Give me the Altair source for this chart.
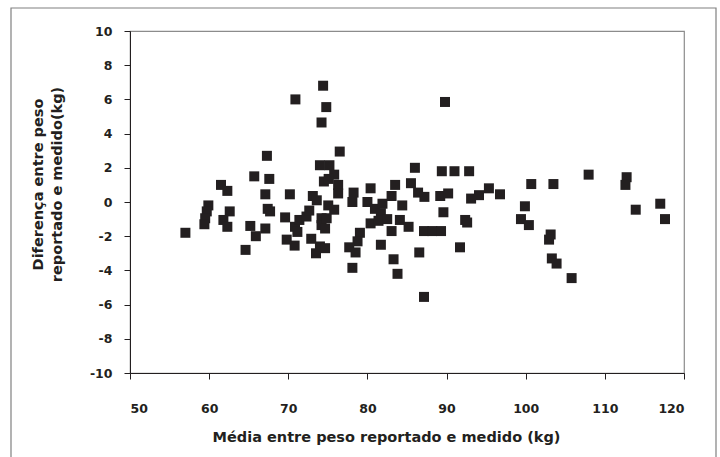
import altair as alt
import pandas as pd

# Mean of reported and measured weight (kg)
media = [
    57.0, 59.9, 59.7, 59.5, 59.4, 61.5, 62.3, 62.6, 61.8, 62.3,
    64.6, 65.7, 65.2, 65.9, 67.3, 67.6, 67.1, 67.4, 67.7, 67.1,
    69.6, 70.2, 69.8, 70.8, 70.9, 70.85, 71.4, 71.15, 72.3, 72.65,
    73.1, 73.6, 72.9, 73.5, 74.0, 74.2, 74.2, 74.4, 74.8, 74.2,
    76.5, 74.0, 75.2, 75.8, 74.5, 75.1, 76.3, 76.3, 75.05, 75.8,
    74.85, 74.65, 74.65,
    78.25, 78.1, 80.4, 80.0, 80.95, 81.9, 81.7, 80.4, 81.4, 82.5,
    79.05, 78.75, 77.7, 78.5, 78.1, 81.7, 83.05, 83.3, 83.8, 83.5,
    83.05, 84.4, 84.1, 85.2, 86.0, 85.5, 86.4, 87.2, 86.55, 87.15,
    87.15, 88.2, 89.3, 89.2, 90.2, 89.6, 89.8, 89.4, 91.0, 92.85,
    91.7, 92.35, 92.6, 93.1, 94.1, 95.35, 96.75,
    100.7, 103.5, 107.95, 112.75, 112.6, 117.0, 113.9, 117.6, 99.9, 99.4,
    100.4, 103.15, 102.95, 103.3, 103.9, 105.8,
]

# Reported minus measured weight (kg)
diferenca = [
    -1.8, -0.2, -0.55, -0.95, -1.3, 1.0, 0.65, -0.55, -1.05, -1.45,
    -2.8, 1.5, -1.4, -2.0, 2.7, 1.35, 0.45, -0.4, -0.55, -1.55,
    -0.9, 0.45, -2.2, -2.55, 6.0, -1.45, -1.05, -1.75, -0.85, -0.5,
    0.35, 0.1, -2.15, -3.0, -2.6, -0.95, -1.35, 6.8, 5.55, 4.65,
    2.95, 2.15, 2.15, 1.6, 1.2, 1.35, 1.0, 0.5, -0.2, -0.45,
    -0.95, -1.55, -2.7,
    0.55, 0.0, 0.8, 0.0, -0.4, -0.1, -0.65, -1.25, -1.1, -1.0,
    -1.8, -2.3, -2.65, -2.95, -3.85, -2.5, -1.7, -3.35, -4.2, 1.0,
    0.35, -0.2, -1.05, -1.45, 2.0, 1.1, 0.55, 0.3, -2.95, -5.55,
    -1.7, -1.7, -1.7, 0.35, 0.5, -0.6, 5.85, 1.8, 1.8, 1.8,
    -2.65, -1.05, -1.2, 0.2, 0.4, 0.8, 0.45,
    1.05, 1.05, 1.6, 1.45, 1.0, -0.1, -0.45, -1.0, -0.25, -1.0,
    -1.35, -1.9, -2.2, -3.3, -3.6, -4.45,
]

x_ticks = [50, 60, 70, 80, 90, 100, 110, 120]
y_ticks = [-10, -8, -6, -4, -2, 0, 2, 4, 6, 8, 10]

x_title = "Média entre peso reportado e medido (kg)"
y_title = ["Diferença entre peso", "reportado e medido(kg)"]

df = pd.DataFrame({"media": media, "diferenca": diferenca})

INK = "#231f20"
FONT = "DejaVu Sans"

points = alt.Chart(df).mark_square(size=100, color=INK, opacity=1).encode(
    x=alt.X(
        "media:Q",
        scale=alt.Scale(domain=[50, 120], nice=False, zero=False),
        axis=alt.Axis(
            values=x_ticks,
            title=x_title,
            grid=False,
            tickSize=6,
            labelPadding=23,
            labelExpr="'' + datum.value",
            titleX=256,
            titleY=64,
            titleBaseline="middle",
        ),
    ),
    y=alt.Y(
        "diferenca:Q",
        scale=alt.Scale(domain=[-10, 10], nice=False, zero=False),
        axis=alt.Axis(
            values=y_ticks,
            title=y_title,
            grid=False,
            tickSize=6,
            labelPadding=12,
            labelExpr="'' + datum.value",
            titleAngle=-90,
            titleX=-92,
            titleY=153,
            titleBaseline="middle",
            titleLineHeight=19,
        ),
    ),
)

# Thin frame around the whole figure
frame = alt.Chart(pd.DataFrame({"k": [0]})).mark_rect(
    fill=None, stroke="#808080", strokeWidth=1.2
).encode(
    x=alt.value(-119), x2=alt.value(586), y=alt.value(-23), y2=alt.value(440)
)

chart = (
    alt.layer(points, frame)
    .properties(
        width=554,
        height=342,
        autosize=alt.AutoSizeParams(type="none"),
        padding={"left": 130, "top": 31, "right": 36, "bottom": 84},
        background="white",
    )
    .configure_view(stroke="#8c8c8c", strokeWidth=1.2)
    .configure_axis(
        domainColor=INK,
        tickColor=INK,
        domainWidth=1,
        tickWidth=1,
        labelFont=FONT,
        labelFontSize=12.5,
        labelFontWeight="bold",
        labelColor=INK,
        titleFont=FONT,
        titleFontSize=14.5,
        titleFontWeight="bold",
        titleColor=INK,
    )
)

chart.save("out.html", embed_options={"renderer": "svg", "actions": False})
